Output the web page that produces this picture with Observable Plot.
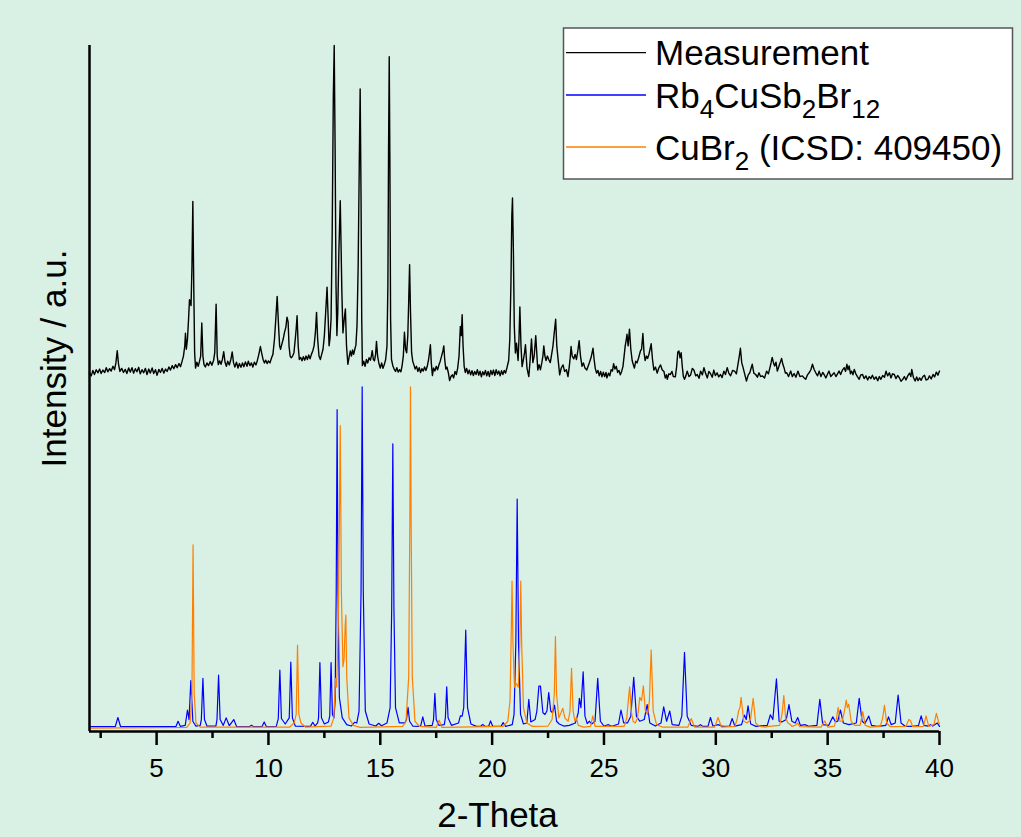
<!DOCTYPE html>
<html><head><meta charset="utf-8">
<script src="https://cdn.jsdelivr.net/npm/d3@7"></script>
<script src="https://cdn.jsdelivr.net/npm/@observablehq/plot@0.6"></script>
<style>
html,body{margin:0;padding:0;background:#d9f0e5;overflow:hidden;}
#chart{position:relative;width:1021px;height:837px;}
</style></head><body><div id="chart"></div>
<script>
// ---- data (2-Theta, relative intensity) ----
const xTitle = "2-Theta";
const yTitle = "Intensity / a.u.";
const majorTicks = [5, 10, 15, 20, 25, 30, 35, 40];
const minorTicks = [2.5, 7.5, 12.5, 17.5, 22.5, 27.5, 32.5, 37.5];
const measuredOffset = 100;
const legendNames = ["Measurement", "Rb4CuSb2Br12", "CuBr2 (ICSD: 409450)"];
const legendColors = ["#000000", "#0000ff", "#ff8000"];

const measuredPattern = [
[2.0,4.0],[2.08,3.2],[2.15,4.8],[2.22,3.6],[2.3,5.0],[2.38,4.1],[2.45,5.2],[2.52,3.9],[2.6,4.9],[2.68,4.2],[2.75,5.6],[2.82,4.4],[2.9,5.3],[2.97,4.6],[3.05,6.0],[3.12,5.0],[3.18,7.0],[3.24,10.6],[3.3,6.5],[3.36,4.5],[3.44,5.4],[3.52,4.2],[3.6,5.1],[3.67,3.9],[3.75,5.5],[3.82,4.3],[3.9,5.6],[3.97,4.0],[4.05,5.3],[4.12,4.4],[4.2,5.7],[4.27,3.8],[4.35,5.0],[4.42,4.1],[4.5,5.4],[4.57,3.6],[4.65,5.2],[4.72,4.0],[4.8,5.5],[4.87,3.9],[4.95,5.0],[5.02,3.4],[5.1,5.1],[5.17,4.2],[5.25,5.4],[5.32,4.0],[5.4,5.2],[5.47,4.5],[5.55,5.8],[5.62,4.9],[5.7,6.2],[5.77,5.3],[5.85,6.5],[5.92,5.6],[6.0,6.8],[6.07,5.9],[6.14,7.5],[6.2,9.0],[6.26,12.0],[6.29,15.7],[6.33,11.0],[6.38,14.0],[6.43,20.0],[6.47,25.5],[6.54,23.8],[6.58,35.0],[6.62,54.3],[6.66,30.0],[6.7,10.0],[6.74,5.5],[6.8,7.2],[6.86,6.0],[6.92,7.5],[6.97,9.0],[7.02,18.7],[7.07,9.0],[7.12,6.5],[7.18,5.8],[7.25,7.0],[7.32,6.2],[7.4,7.4],[7.47,6.3],[7.55,7.8],[7.6,10.0],[7.66,24.2],[7.71,9.0],[7.76,6.5],[7.82,7.6],[7.88,6.6],[7.94,8.0],[8.0,10.3],[8.06,7.2],[8.12,6.0],[8.18,7.5],[8.25,6.4],[8.32,8.0],[8.38,10.2],[8.44,7.0],[8.5,5.8],[8.57,7.2],[8.64,5.5],[8.7,6.8],[8.77,5.7],[8.84,7.0],[8.9,5.9],[8.97,7.3],[9.04,6.0],[9.1,7.5],[9.17,6.2],[9.24,7.0],[9.3,5.8],[9.37,7.2],[9.44,6.4],[9.5,7.6],[9.57,9.5],[9.64,11.8],[9.7,9.8],[9.76,8.0],[9.82,7.0],[9.88,7.8],[9.94,6.8],[10.0,7.6],[10.07,7.0],[10.14,8.5],[10.2,9.5],[10.27,14.0],[10.33,20.0],[10.39,26.5],[10.45,18.0],[10.5,12.0],[10.54,11.0],[10.6,12.5],[10.66,14.0],[10.72,16.0],[10.78,17.5],[10.83,20.4],[10.88,19.0],[10.92,12.0],[10.97,9.0],[11.02,8.5],[11.08,9.0],[11.14,10.0],[11.2,14.0],[11.24,17.0],[11.28,20.8],[11.33,12.0],[11.38,8.0],[11.44,8.6],[11.5,7.6],[11.56,8.8],[11.62,7.8],[11.68,9.0],[11.74,8.0],[11.8,9.3],[11.86,8.2],[11.92,9.5],[11.98,10.5],[12.04,12.0],[12.1,16.0],[12.15,21.8],[12.2,14.0],[12.26,9.0],[12.32,8.0],[12.38,9.5],[12.44,11.0],[12.5,15.0],[12.56,22.0],[12.62,29.2],[12.67,20.0],[12.71,12.0],[12.75,14.0],[12.8,20.0],[12.85,45.0],[12.9,85.0],[12.94,100.0],[12.98,70.0],[13.02,30.0],[13.06,15.0],[13.1,22.0],[13.15,40.0],[13.21,54.5],[13.25,40.0],[13.28,28.4],[13.33,15.8],[13.39,20.0],[13.44,22.8],[13.49,12.0],[13.55,6.6],[13.6,8.5],[13.66,10.5],[13.71,9.0],[13.76,10.8],[13.81,9.5],[13.86,11.0],[13.91,12.2],[13.96,18.0],[14.01,35.0],[14.06,65.0],[14.1,87.3],[14.14,55.0],[14.17,20.0],[14.2,6.2],[14.26,7.5],[14.32,6.0],[14.38,8.0],[14.44,7.0],[14.5,8.5],[14.56,7.8],[14.6,9.0],[14.64,10.6],[14.69,8.0],[14.74,7.6],[14.79,9.5],[14.83,13.3],[14.88,9.0],[14.94,6.8],[15.0,5.5],[15.06,7.0],[15.12,5.4],[15.18,6.5],[15.24,8.0],[15.3,12.0],[15.34,30.0],[15.37,70.0],[15.4,96.7],[15.43,65.0],[15.46,20.0],[15.5,8.0],[15.56,6.2],[15.62,5.2],[15.68,4.5],[15.74,5.6],[15.8,4.3],[15.86,5.0],[15.92,4.4],[15.97,6.0],[16.03,9.0],[16.08,16.0],[16.13,11.0],[16.18,10.0],[16.23,15.0],[16.27,25.0],[16.31,35.8],[16.35,22.0],[16.4,10.0],[16.45,7.5],[16.5,6.5],[16.56,5.2],[16.62,6.0],[16.68,4.5],[16.74,5.6],[16.8,4.2],[16.86,5.3],[16.92,4.6],[16.98,5.8],[17.04,4.8],[17.1,6.0],[17.16,8.0],[17.2,10.0],[17.24,12.3],[17.28,7.0],[17.33,3.3],[17.38,5.5],[17.44,4.6],[17.5,6.0],[17.56,5.0],[17.62,6.4],[17.68,7.5],[17.74,9.0],[17.8,10.5],[17.84,12.0],[17.88,8.0],[17.93,5.2],[17.98,5.8],[18.04,4.2],[18.1,1.8],[18.16,3.0],[18.22,3.5],[18.28,2.6],[18.34,4.5],[18.4,3.6],[18.46,5.5],[18.52,9.0],[18.58,17.7],[18.62,15.0],[18.66,21.1],[18.7,12.0],[18.75,6.0],[18.8,4.2],[18.86,5.4],[18.92,3.8],[18.98,4.9],[19.04,3.5],[19.1,4.7],[19.16,3.3],[19.22,4.5],[19.28,3.6],[19.34,5.0],[19.4,3.4],[19.46,4.6],[19.52,2.9],[19.58,4.4],[19.64,3.5],[19.7,4.8],[19.76,3.2],[19.82,4.5],[19.88,3.0],[19.94,4.8],[20.0,3.6],[20.06,4.9],[20.12,3.3],[20.18,5.0],[20.24,3.7],[20.3,4.6],[20.36,3.2],[20.42,4.7],[20.48,3.6],[20.54,4.8],[20.6,4.0],[20.66,5.5],[20.74,7.7],[20.79,14.0],[20.84,30.0],[20.88,50.0],[20.91,55.3],[20.95,40.0],[20.99,18.0],[21.04,9.9],[21.09,12.8],[21.16,7.7],[21.2,14.0],[21.24,23.4],[21.29,12.0],[21.34,5.9],[21.4,8.0],[21.45,10.0],[21.49,12.3],[21.56,5.4],[21.64,3.0],[21.7,8.0],[21.76,14.0],[21.82,7.1],[21.88,9.0],[21.95,15.0],[22.04,4.9],[22.1,6.5],[22.16,5.0],[22.22,7.0],[22.27,9.0],[22.31,12.0],[22.36,9.0],[22.41,7.7],[22.47,9.0],[22.53,8.0],[22.6,7.1],[22.66,9.5],[22.72,12.0],[22.78,16.0],[22.84,19.8],[22.89,12.0],[22.94,8.6],[23.02,3.5],[23.09,5.5],[23.17,6.4],[23.24,4.5],[23.32,5.0],[23.39,3.0],[23.45,6.0],[23.49,8.5],[23.53,11.8],[23.58,9.0],[23.65,8.2],[23.71,9.5],[23.77,8.0],[23.83,10.5],[23.89,13.5],[23.95,9.0],[24.02,6.0],[24.08,7.0],[24.15,5.5],[24.23,4.9],[24.29,6.0],[24.35,7.1],[24.42,8.5],[24.47,10.0],[24.51,11.3],[24.56,8.0],[24.61,5.4],[24.67,4.0],[24.73,4.8],[24.79,3.2],[24.85,4.5],[24.91,2.9],[24.97,4.3],[25.03,3.0],[25.09,4.2],[25.13,2.6],[25.2,4.0],[25.26,3.2],[25.32,5.0],[25.38,4.6],[25.43,6.8],[25.49,5.2],[25.55,6.0],[25.61,4.2],[25.67,4.8],[25.73,3.5],[25.79,4.5],[25.85,6.0],[25.9,9.0],[25.95,12.0],[26.0,14.0],[26.03,15.4],[26.08,12.0],[26.14,16.9],[26.2,11.0],[26.26,7.7],[26.31,6.5],[26.36,5.5],[26.42,7.5],[26.48,7.0],[26.55,8.5],[26.63,10.5],[26.68,11.0],[26.74,15.6],[26.79,10.0],[26.84,7.7],[26.9,9.0],[26.95,8.3],[27.01,9.5],[27.06,11.0],[27.11,12.6],[27.17,8.0],[27.23,4.9],[27.3,5.8],[27.38,4.0],[27.45,5.5],[27.53,6.4],[27.6,5.0],[27.68,4.5],[27.74,2.6],[27.8,3.5],[27.83,2.2],[27.9,3.8],[27.97,3.6],[28.04,4.5],[28.1,3.0],[28.19,2.9],[28.25,6.0],[28.3,10.2],[28.35,10.5],[28.4,8.5],[28.45,10.0],[28.5,6.0],[28.55,3.0],[28.6,2.2],[28.66,3.2],[28.72,4.6],[28.8,3.0],[28.87,3.4],[28.95,5.4],[29.02,4.9],[29.1,3.2],[29.17,3.6],[29.25,2.5],[29.32,4.6],[29.4,3.5],[29.47,5.6],[29.55,3.8],[29.62,2.6],[29.69,4.5],[29.76,3.9],[29.84,2.8],[29.91,4.9],[29.98,3.3],[30.06,4.1],[30.13,2.9],[30.21,3.6],[30.28,2.7],[30.36,4.6],[30.43,3.6],[30.51,5.6],[30.58,4.0],[30.66,3.2],[30.75,4.8],[30.84,4.6],[30.92,3.8],[30.99,6.6],[31.05,9.0],[31.1,11.3],[31.16,7.0],[31.22,5.6],[31.3,3.5],[31.37,1.7],[31.45,3.5],[31.52,4.1],[31.58,5.5],[31.63,6.6],[31.7,4.0],[31.78,3.6],[31.86,2.8],[31.93,4.1],[32.0,3.0],[32.08,3.2],[32.18,2.6],[32.27,4.6],[32.35,3.8],[32.42,5.6],[32.47,7.0],[32.52,8.6],[32.58,7.0],[32.63,6.1],[32.69,7.2],[32.75,4.6],[32.8,5.6],[32.85,6.6],[32.9,7.5],[32.94,8.3],[33.0,6.5],[33.05,5.6],[33.11,4.0],[33.17,4.1],[33.25,3.0],[33.35,4.6],[33.42,3.0],[33.5,3.9],[33.58,2.8],[33.67,4.6],[33.76,3.0],[33.87,3.2],[33.95,2.6],[34.02,2.2],[34.1,3.5],[34.17,4.1],[34.25,5.0],[34.32,6.6],[34.4,5.0],[34.47,4.1],[34.55,3.2],[34.62,4.6],[34.7,3.0],[34.78,4.2],[34.84,3.6],[34.92,2.6],[35.0,3.8],[35.06,4.6],[35.14,3.0],[35.22,3.6],[35.29,4.1],[35.37,3.0],[35.44,3.8],[35.51,4.6],[35.58,3.6],[35.66,4.9],[35.74,5.6],[35.8,4.5],[35.86,6.6],[35.91,5.0],[35.96,6.1],[36.02,3.8],[36.07,4.6],[36.13,3.5],[36.19,5.1],[36.26,3.8],[36.33,3.0],[36.41,2.2],[36.48,3.5],[36.56,3.6],[36.63,2.4],[36.71,3.2],[36.79,2.0],[36.86,3.0],[36.93,2.4],[37.0,3.4],[37.08,2.2],[37.16,2.9],[37.24,1.8],[37.31,3.0],[37.38,2.2],[37.46,3.3],[37.54,2.8],[37.61,4.6],[37.68,3.2],[37.76,4.1],[37.83,2.6],[37.9,3.8],[37.98,3.6],[38.05,2.4],[38.13,3.3],[38.21,2.6],[38.28,1.6],[38.36,2.2],[38.43,3.0],[38.5,2.0],[38.58,3.2],[38.66,4.0],[38.72,3.0],[38.76,5.1],[38.83,2.8],[38.91,1.7],[38.98,2.9],[39.04,1.8],[39.11,2.6],[39.18,1.9],[39.26,3.0],[39.33,3.4],[39.4,2.0],[39.48,2.2],[39.55,3.2],[39.63,2.3],[39.71,3.6],[39.78,2.9],[39.86,4.3],[39.93,3.4],[40.0,4.6]
];

const rb4Pattern = [
[2,0.4],[3.15,0.4],[3.27,3.1],[3.39,0.4],
[5.86,0.4],[5.96,2.0],[6.06,0.5],
[6.28,0.8],[6.38,5.3],[6.45,2.5],[6.53,13.9],[6.62,2.0],[6.75,0.6],
[6.95,0.8],[7.0,2.5],[7.07,14.6],[7.14,2.5],[7.25,0.6],
[7.65,0.6],[7.7,2.5],[7.77,15.5],[7.84,2.5],[7.98,0.8],
[8.11,3.0],[8.25,0.7],[8.45,2.5],[8.58,0.4],
[9.14,0.4],[9.24,0.8],[9.34,0.4],
[9.71,0.4],[9.81,1.8],[9.91,0.4],
[10.35,0.5],[10.44,2.8],[10.51,17.0],[10.58,2.8],[10.75,1.2],
[10.93,3.0],[11.0,19.3],[11.07,3.0],[11.2,0.6],
[11.88,0.5],[11.98,1.7],[12.08,0.6],
[12.2,1.5],[12.24,3.0],[12.3,19.2],[12.37,3.0],[12.5,1.2],
[12.68,1.8],[12.74,3.5],[12.8,19.2],[12.86,4.0],[12.93,3.0],
[12.98,8],[13.03,40],[13.07,93.3],[13.11,40],[13.17,9],[13.3,3.0],[13.5,1.0],[13.7,0.6],
[13.85,1.7],[13.95,1.5],
[14.05,5],[14.14,40],[14.19,100],[14.24,40],[14.33,5],[14.5,1.2],[14.8,0.6],
[14.93,1.4],[15.05,0.7],
[15.3,1.5],[15.44,6],[15.51,35],[15.56,83.3],[15.61,35],[15.68,6],[15.85,1.5],
[16.1,1.5],[16.17,2.5],[16.24,6.1],[16.31,2.0],[16.45,0.6],
[16.8,0.5],[16.9,3.3],[17.0,0.6],
[17.32,0.8],[17.38,2.5],[17.44,10.2],[17.5,2.5],[17.62,0.8],
[17.86,1.0],[17.91,3],[17.97,12.1],[18.03,3],[18.18,0.8],
[18.5,1.5],[18.58,3.6],[18.66,3.5],[18.73,6],[18.82,28.7],[18.9,6],[19.05,1.2],[19.3,0.5],
[19.5,0.6],[19.58,1.1],[19.68,0.5],
[19.85,0.6],[19.93,2.1],[20.02,0.6],
[20.4,0.5],[20.49,1.6],[20.6,0.5],
[20.9,1.0],[20.98,4],[21.06,25],[21.12,67.1],[21.18,25],[21.27,4],[21.4,1.2],
[21.55,1.5],[21.64,8.4],[21.73,1.8],
[21.92,2.5],[22.0,5],[22.09,12.3],[22.16,12.3],[22.27,4.5],[22.36,4.0],[22.45,5],[22.53,10.4],[22.62,5],[22.7,4.5],[22.79,6.7],[22.88,2],[23.0,1.2],[23.2,0.6],[23.45,0.8],
[23.72,1.5],[23.85,4.5],[23.9,8.7],[23.97,6],[24.07,16.5],[24.15,3.5],[24.25,1.3],[24.35,2.0],[24.45,1.2],
[24.6,2],[24.72,14.6],[24.84,2],[25.0,0.6],
[25.2,1.0],[25.35,0.5],
[25.65,1.2],[25.76,5.3],[25.88,1.5],[26.05,1.5],[26.2,3.5],[26.33,14.9],[26.45,3.5],[26.6,2],
[26.8,2.5],[26.93,6.9],[27.05,1.5],[27.3,0.6],
[27.55,1.5],[27.67,6.2],[27.8,2.0],[27.94,5.0],[28.05,1.0],
[28.35,0.8],[28.48,3.5],[28.6,22.2],[28.72,3.5],[28.9,0.8],
[29.2,0.5],[29.31,1.0],[29.42,0.5],
[29.65,0.5],[29.76,3.1],[29.87,0.6],[30.1,1.0],[30.3,0.5],
[30.62,0.6],[30.73,2.8],[30.85,0.6],
[31.15,1.0],[31.28,3.8],[31.36,2.5],[31.44,6.5],[31.56,1.2],[31.8,0.5],
[32.3,0.8],[32.44,3.9],[32.55,2.5],[32.71,14.4],[32.83,2.0],[32.95,1.8],
[33.15,2.5],[33.27,6.9],[33.4,2.0],[33.55,1.5],[33.66,3.1],[33.78,0.8],
[34.0,1.0],[34.15,0.5],
[34.52,0.8],[34.65,8.4],[34.78,1.0],
[35.05,0.8],[35.23,3.3],[35.35,1.8],[35.45,2.0],[35.57,5.3],[35.7,1.5],[35.95,1.0],
[36.28,1.5],[36.41,8.7],[36.54,2.0],[36.66,1.3],[36.84,3.5],[36.96,0.8],
[37.2,0.5],[37.35,0.6],
[37.6,0.8],[37.72,3.3],[37.84,1.0],[38.02,1.5],[38.15,9.7],[38.28,1.5],[38.45,0.6],
[38.8,0.5],
[39.06,0.7],[39.18,3.6],[39.3,0.8],[39.5,0.6],[39.6,1.0],[39.7,0.6],
[39.9,1.5],[40.0,0.5]
];

const cuBr2Pattern = [
[2,0],[6.35,0.2],[6.5,1.5],[6.58,10],[6.63,53.7],[6.68,10],[6.76,1.5],[6.95,0.3],
[10.95,0.3],[11.15,1.5],[11.24,4],[11.3,24.3],[11.36,4],[11.45,1.5],[11.65,0.3],
[12.8,0.6],[12.92,3],[13.0,14.6],[13.05,12],[13.12,30],[13.17,60],[13.21,88.6],[13.26,40],[13.33,18],[13.38,20],[13.43,30],[13.46,33.1],[13.5,15],[13.6,3],[13.8,0.8],[14.1,0.2],
[16.0,0.5],[16.15,2],[16.27,15],[16.32,60],[16.35,100],[16.38,60],[16.43,15],[16.55,2],[16.75,0.5],
[17.5,0.2],[17.63,2.3],[17.75,0.2],
[20.5,0.5],[20.7,2],[20.8,8],[20.86,30],[20.89,43.1],[20.93,25],[21.0,12],[21.09,13],[21.17,12],[21.24,25],[21.28,43.1],[21.32,25],[21.4,6],[21.55,1.5],[21.8,0.5],
[22.5,0.6],[22.68,2.5],[22.78,10],[22.83,26.8],[22.88,10],[22.98,3],[23.08,4.5],[23.16,5.8],[23.25,3],[23.4,2],[23.48,5],[23.55,17.5],[23.62,5],[23.7,2],[23.77,3.0],[23.85,0.8],[24.1,0.3],
[24.4,0.5],[24.5,3.6],[24.6,0.5],
[25.9,0.5],[26.02,3],[26.1,9],[26.15,12.1],[26.22,5],[26.3,2],[26.4,1.5],[26.5,3],[26.6,9.0],[26.68,8],[26.76,12.4],[26.85,5],[26.95,4],[27.03,8],[27.11,22.9],[27.2,5],[27.35,1],[27.6,0.3],
[28.75,0.3],[28.9,2.8],[29.05,0.3],
[29.95,0.3],[30.1,3.1],[30.25,0.3],
[30.85,0.5],[30.95,2.5],[31.02,5.1],[31.08,6],[31.13,9.0],[31.25,2],[31.4,1.5],[31.55,2.5],[31.67,8.7],[31.78,1.5],[31.95,0.5],
[32.2,0.3],[32.35,0.5],
[32.85,0.8],[32.96,4],[33.04,9.5],[33.12,3],[33.22,1.5],[33.3,1.2],[33.4,0.5],[33.55,0.8],[33.66,1.5],[33.75,0.4],
[34.7,0.3],[34.87,2.1],[35.0,0.3],
[35.3,0.6],[35.4,3],[35.47,6.1],[35.55,2],[35.65,2],[35.75,5],[35.83,8.2],[35.88,6],[35.94,7.0],[36.05,2],[36.2,0.8],
[36.45,0.8],[36.57,4.8],[36.68,0.8],[36.9,0.3],
[37.35,0.5],[37.46,3],[37.54,6.7],[37.64,1.5],[37.8,0.4],
[38.5,0.5],[38.63,2.5],[38.7,2.2],[38.8,0.4],
[39.28,0.5],[39.4,3.6],[39.52,0.5],
[39.75,1],[39.86,4.3],[39.95,2],[40,1.2]
];

// ---- chart ----
const FONT = "Arial, 'Liberation Sans', Helvetica, sans-serif";
const plot = Plot.plot({
  width: 1021,
  height: 837,
  marginTop: 45,
  marginBottom: 106,
  marginLeft: 89,
  marginRight: 82,
  style: {background: "transparent", color: "black", fontFamily: FONT, fontSize: "26px", overflow: "visible"},
  x: {domain: [2, 40]},
  y: {domain: [-1, 200], axis: null},
  marks: [
    Plot.line(measuredPattern, {x: d => d[0], y: d => d[1] + measuredOffset, stroke: legendColors[0], strokeWidth: 1.4}),
    Plot.line(rb4Pattern, {x: d => d[0], y: d => d[1], stroke: legendColors[1], strokeWidth: 1.2}),
    Plot.line(cuBr2Pattern, {x: d => d[0], y: d => d[1], stroke: legendColors[2], strokeWidth: 1.2}),
    Plot.axisX({ticks: minorTicks, tickSize: 7, strokeWidth: 2.5, tickFormat: () => "", label: null}),
    Plot.axisX({ticks: majorTicks, tickSize: 14, tickPadding: 13, strokeWidth: 2.5, tickFormat: d => String(d), label: null}),
    Plot.ruleY([-1], {strokeWidth: 2.5}),
    Plot.ruleX([2], {strokeWidth: 2.5}),
    Plot.text([xTitle], {text: d => d, frameAnchor: "bottom", textAnchor: "middle", lineAnchor: "middle", dx: -17, dy: 84, fontSize: 35}),
    Plot.text([yTitle], {text: d => d, frameAnchor: "left", textAnchor: "middle", lineAnchor: "middle", rotate: -90, dx: -35, dy: -30, fontSize: 35})
  ]
});
document.getElementById("chart").appendChild(plot);

// ---- legend ----
const svg = d3.select(plot);
const lg = svg.append("g").attr("font-family", FONT).attr("font-size", 35).attr("text-anchor", "start");
lg.append("rect").attr("x", 563.5).attr("y", 28).attr("width", 449).attr("height", 151)
  .attr("fill", "white").attr("stroke", "#555").attr("stroke-width", 1.5);
const rowLineY = [52.7, 95, 147];
const rowTextY = [65, 107.7, 160];
legendNames.forEach((name, i) => {
  lg.append("line").attr("x1", 566).attr("x2", 646).attr("y1", rowLineY[i]).attr("y2", rowLineY[i])
    .attr("stroke", legendColors[i]).attr("stroke-width", 1.3);
  const t = lg.append("text").attr("x", 655).attr("y", rowTextY[i]).attr("fill", "black");
  const parts = name.match(/^([^(]*)(.*)$/);
  const chem = parts[1];
  const rest = parts[2];
  const tokens = chem.match(/[A-Za-z ]+|\d+/g) || [];
  let sub = false;
  tokens.forEach(tok => {
    const isNum = /^\d+$/.test(tok);
    if (isNum && !sub) { t.append("tspan").attr("dy", 10).attr("font-size", 26).text(tok); sub = true; }
    else if (!isNum && sub) { t.append("tspan").attr("dy", -10).text(tok); sub = false; }
    else t.append("tspan").attr("font-size", isNum ? 26 : null).text(tok);
  });
  if (rest) {
    if (sub) { t.append("tspan").attr("dy", -10).text(rest); } else t.append("tspan").text(rest);
  }
});
</script></body></html>
